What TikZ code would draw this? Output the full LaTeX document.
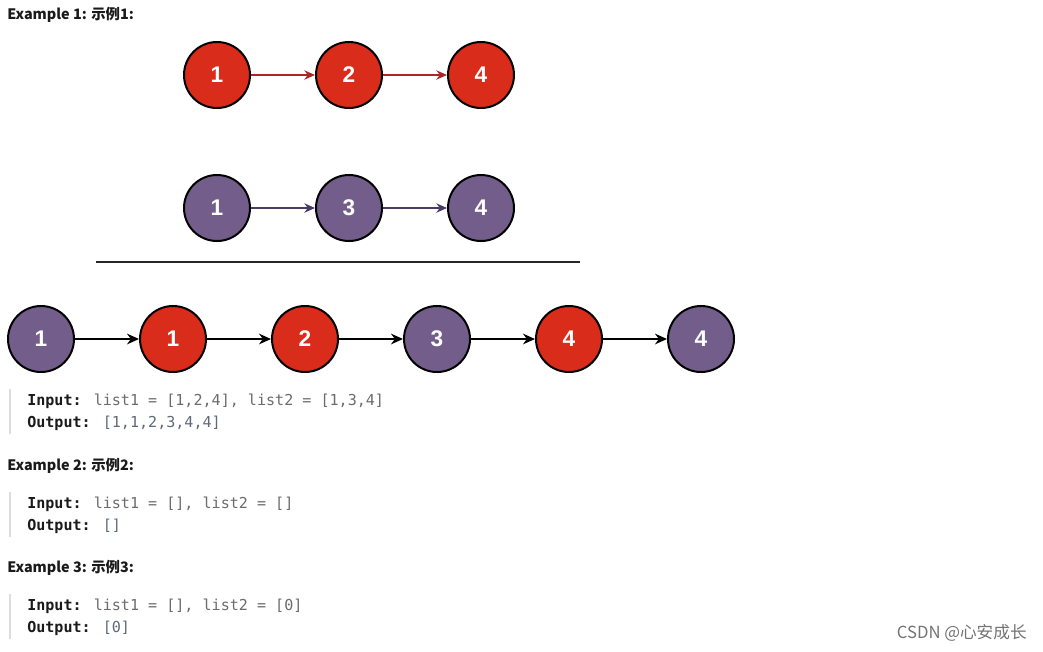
\documentclass[tikz,border=0pt]{standalone}
\usepackage{fontspec}
\setmainfont{Liberation Sans}
\newfontfamily\cjk{Noto Sans CJK SC}
\newfontfamily\codefont{DejaVu Sans Mono}
\usetikzlibrary{arrows.meta}
\definecolor{nred}{HTML}{DA2C1B}
\definecolor{npurple}{HTML}{735E8B}
\definecolor{ared}{HTML}{A8282A}
\definecolor{apurple}{HTML}{4A3A66}
\definecolor{codegray}{HTML}{6B6B6B}
\definecolor{codeval}{HTML}{5E6A78}
\definecolor{barcol}{HTML}{DDDDDD}
\definecolor{headcol}{HTML}{1A1A1A}
\tikzset{
  nodebase/.style={circle, draw=black, line width=1.5pt, minimum size=49.5pt, inner sep=0pt,
    text=white, font=\fontsize{17}{17}\selectfont\bfseries},
  rednode/.style={nodebase, fill=nred},
  purplenode/.style={nodebase, fill=npurple},
  redarrow/.style={draw=ared, line width=1pt, -{Stealth[length=8pt,width=7pt]}},
  purplearrow/.style={draw=apurple, line width=1pt, -{Stealth[length=8pt,width=7pt]}},
  blackarrow/.style={draw=black, line width=1.2pt, -{Stealth[length=9pt,width=8pt]}},
  heading/.style={anchor=west, inner sep=0pt, text=headcol, font=\cjk\bfseries\fontsize{10.8}{11}\selectfont},
  codeline/.style={anchor=west, inner sep=0pt, font=\codefont\fontsize{11.3}{12}\selectfont},
  codebar/.style={draw=barcol, line width=2.2pt},
}
\begin{document}
\begin{tikzpicture}[x=0.75pt,y=-0.75pt]
\useasboundingbox (0,0) rectangle (1043,651);
% headings
\node[heading] (h1) at (7,15) {Example 1: 示例1:};
\node[heading] (h2) at (7,466) {Example 2: 示例2:};
\node[heading] (h3) at (7,568) {Example 3: 示例3:};
% top row
\node[rednode] (a1) at (217,75) {1};
\node[rednode] (a2) at (349,75) {2};
\node[rednode] (a3) at (481,75) {4};
\draw[redarrow] (a1) -- (a2);
\draw[redarrow] (a2) -- (a3);
% second row
\node[purplenode] (b1) at (217,208) {1};
\node[purplenode] (b2) at (349,208) {3};
\node[purplenode] (b3) at (481,208) {4};
\draw[purplearrow] (b1) -- (b2);
\draw[purplearrow] (b2) -- (b3);
% separator
\coordinate (s1) at (96,262);
\coordinate (s2) at (580,262);
\draw[line width=1.5pt, black!85] (s1) -- (s2);
% merged row
\node[purplenode] (c1) at (41,339) {1};
\node[rednode] (c2) at (173,339) {1};
\node[rednode] (c3) at (305,339) {2};
\node[purplenode] (c4) at (437,339) {3};
\node[rednode] (c5) at (569,339) {4};
\node[purplenode] (c6) at (701,339) {4};
\draw[blackarrow] (c1) -- (c2);
\draw[blackarrow] (c2) -- (c3);
\draw[blackarrow] (c3) -- (c4);
\draw[blackarrow] (c4) -- (c5);
\draw[blackarrow] (c5) -- (c6);
% code block 1
\coordinate (k1t) at (10,389);
\coordinate (k1b) at (10,434);
\draw[codebar] (k1t) -- (k1b);
\node[codeline] (i1) at (27,401) {\textcolor{headcol}{\bfseries Input:} \textcolor{codegray}{list1 = [1,2,4], list2 = [1,3,4]}};
\node[codeline] (o1) at (27,423) {\textcolor{headcol}{\bfseries Output:} \textcolor{codeval}{[1,1,2,3,4,4]}};
% code block 2
\coordinate (k2t) at (10,492);
\coordinate (k2b) at (10,537);
\draw[codebar] (k2t) -- (k2b);
\node[codeline] (i2) at (27,504) {\textcolor{headcol}{\bfseries Input:} \textcolor{codegray}{list1 = [], list2 = []}};
\node[codeline] (o2) at (27,526) {\textcolor{headcol}{\bfseries Output:} \textcolor{codeval}{[]}};
% code block 3
\coordinate (k3t) at (10,594);
\coordinate (k3b) at (10,639);
\draw[codebar] (k3t) -- (k3b);
\node[codeline] (i3) at (27,606) {\textcolor{headcol}{\bfseries Input:} \textcolor{codegray}{list1 = [], list2 = [0]}};
\node[codeline] (o3) at (27,628) {\textcolor{headcol}{\bfseries Output:} \textcolor{codeval}{[0]}};
% watermark
\node[anchor=east, inner sep=0pt, text=black!55, font=\cjk\fontsize{12.5}{13}\selectfont] (wm) at (1027,633) {CSDN @心安成长};
\end{tikzpicture}
\end{document}
